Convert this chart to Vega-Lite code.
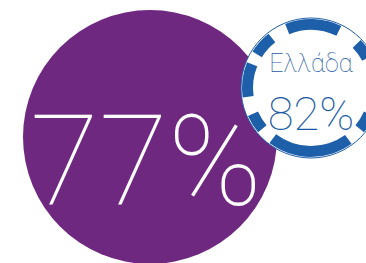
{
  "$schema": "https://vega.github.io/schema/vega-lite/v6.json",
  "width": 366,
  "height": 263,
  "autosize": {"type": "fit", "contains": "padding"},
  "padding": 0,
  "background": "white",
  "config": {"view": {"stroke": null}},
  "datasets": {
    "shares": [
      {"region": "ΕΕ", "value": 77, "label": "77%"},
      {"region": "Ελλάδα", "value": 82, "label": "82%"}
    ],
    "ring": [
      {"region": "Ελλάδα", "start": -22, "end": 26},
      {"region": "Ελλάδα", "start": 46, "end": 62},
      {"region": "Ελλάδα", "start": 114, "end": 130},
      {"region": "Ελλάδα", "start": 144, "end": 217},
      {"region": "Ελλάδα", "start": 230, "end": 246},
      {"region": "Ελλάδα", "start": 262, "end": 292},
      {"region": "Ελλάδα", "start": 302, "end": 322}
    ]
  },
  "encoding": {
    "x": {"field": "region", "type": "nominal", "axis": null, "scale": {"type": "point", "padding": 0, "domain": ["ΕΕ", "Ελλάδα"], "range": [150, 311]}},
    "y": {"field": "region", "type": "nominal", "axis": null, "scale": {"type": "point", "padding": 0, "domain": ["ΕΕ", "Ελλάδα"], "range": [137, 88]}}
  },
  "layer": [
    {
      "data": {"name": "shares"},
      "transform": [{"filter": "datum.region === 'ΕΕ'"}],
      "mark": {"type": "point", "shape": "circle", "filled": true, "size": 64516, "color": "#6e2880", "opacity": 1}
    },
    {
      "data": {"name": "shares"},
      "transform": [{"filter": "datum.region === 'Ελλάδα'"}],
      "mark": {"type": "point", "shape": "circle", "filled": true, "size": 19600, "fill": "#ffffff", "stroke": "#1e5faa", "strokeWidth": 1, "opacity": 1, "fillOpacity": 1, "strokeOpacity": 1}
    },
    {
      "data": {"name": "ring"},
      "mark": {"type": "arc", "radius": 69, "radius2": 58, "color": "#1e5faa"},
      "encoding": {
        "theta": {"field": "start", "type": "quantitative", "stack": null, "scale": {"domain": [0, 360], "range": [0, 6.283185307]}},
        "theta2": {"field": "end"}
      }
    },
    {
      "data": {"name": "shares"},
      "transform": [{"filter": "datum.region === 'ΕΕ'"}],
      "mark": {"type": "text", "font": "Roboto", "fontWeight": 100, "fontSize": 126, "color": "#ffffff", "align": "center", "baseline": "alphabetic", "dx": -4, "dy": 68},
      "encoding": {"text": {"field": "label"}}
    },
    {
      "data": {"name": "shares"},
      "transform": [{"filter": "datum.region === 'Ελλάδα'"}],
      "mark": {"type": "text", "font": "Roboto", "fontWeight": 100, "fontSize": 25, "color": "#1c5aa5", "align": "center", "baseline": "alphabetic", "dy": -16},
      "encoding": {"text": {"field": "region"}}
    },
    {
      "data": {"name": "shares"},
      "transform": [{"filter": "datum.region === 'Ελλάδα'"}],
      "mark": {"type": "text", "font": "Roboto", "fontWeight": 100, "fontSize": 47, "color": "#1c5aa5", "align": "center", "baseline": "alphabetic", "dy": 42},
      "encoding": {"text": {"field": "label"}}
    }
  ]
}
